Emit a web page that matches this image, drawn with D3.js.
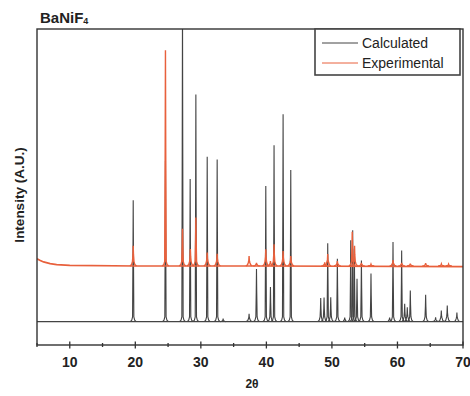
<!DOCTYPE html>
<html>
<head>
<meta charset="utf-8">
<script src="https://cdn.jsdelivr.net/npm/d3@7"></script>
<style>
	body { margin: 0; background: #fff; }
	svg { display: block; font-family: "Liberation Sans", Arial, sans-serif; }
</style>
</head>
<body>
<svg id="chart" width="470" height="396"></svg>
<script>
const calcPos = [19.68, 24.6, 27.2, 28.37, 29.24, 30.97, 32.49, 33.4, 37.36, 38.49, 39.91, 40.62, 41.17, 42.55, 43.72,
	48.29, 48.8, 49.36, 49.82, 50.83, 51.95, 52.87, 53.17, 53.42, 53.83, 54.5, 55.96, 58.8, 59.32, 60.64, 61.1, 61.5,
	61.96, 64.3, 65.82, 66.69, 67.6, 69.07]
const calcInt = [41.5, 55, 110, 48.7, 77.6, 56.3, 55.4, 1, 2.7, 18, 46.3, 11.8, 60.3, 70.9, 51.8,
	8.1, 8.2, 26.8, 8.3, 21.5, 1.4, 27.8, 31.2, 24.9, 14.6, 20.9, 16.4, 1.4, 27.2, 24.3, 6.1, 4.9,
	10.6, 9.2, 1.5, 3.8, 5.5, 3.1]

const expPos = [19.68, 24.6, 27.2, 28.4, 29.24, 30.97, 32.49, 37.36, 38.49, 39.91, 40.62, 41.17, 42.55, 43.72,
	48.9, 49.36, 50.83, 53.1, 53.45, 54.5, 55.96, 59.32, 60.64, 61.96, 64.3, 66.7, 67.8]
const expInt = [6.9, 73.7, 12.7, 5.8, 16.6, 4.6, 4.2, 3.4, 1.1, 5.7, 1.7, 7.4, 5.1, 3.4,
	1.2, 4.1, 1.7, 11.7, 6.9, 1.1, 0.6, 2, 1.1, 0.8, 1, 0.7, 0.6]

// experimental background (offset trace)
const bgX = [5, 5.5, 6, 7, 8, 10, 20, 40, 70]
const bgY = [21.5, 20.9, 20.4, 19.8, 19.5, 19.2, 19.0, 19.0, 18.8]
const expOffset = 19

const xTicks = [10, 20, 30, 40, 50, 60, 70]

const margin = { left: 37, right: 7, top: 29, bottom: 51 }
const width = 470, height = 396

const svg = d3.select('#chart')

const x = d3.scaleLinear().domain([5, 70]).range([margin.left, width - margin.right])
const y = d3.scaleLinear().domain([-8, 100]).range([height - margin.bottom, margin.top])

svg.append('clipPath').attr('id', 'clip')
	.append('rect')
	.attr('x', x(5)).attr('y', y(100))
	.attr('width', x(70) - x(5)).attr('height', y(-8) - y(100))

const plot = svg.append('g').attr('clip-path', 'url(#clip)')

const line = d3.line().x(d => x(d[0])).y(d => y(d[1]))

// a narrow peak shape sitting on a base level, with small rounded feet
const peakShape = (p, h, base, w) => {
	const foot = Math.min(1.6, h * 0.35)
	return [
		[p - w, base], [p - w * 0.5, base + foot * 0.3], [p - w * 0.22, base + foot], [p - 0.04, base + h * 0.55],
		[p, base + h],
		[p + 0.04, base + h * 0.55], [p + w * 0.22, base + foot], [p + w * 0.5, base + foot * 0.3], [p + w, base]
	]
}

const calcColor = '#444', expColor = '#e8603c'

// calculated
plot.append('path')
	.attr('d', line([[5, 0], [70, 0]]))
	.attr('fill', 'none').attr('stroke', calcColor).attr('stroke-width', 1.1)

plot.selectAll('.calc')
	.data(calcPos)
	.enter()
	.append('path')
	.attr('class', 'calc')
	.attr('d', (p, i) => line(peakShape(p, calcInt[i], 0, 0.45)))
	.attr('fill', 'none').attr('stroke', calcColor).attr('stroke-width', 1.1)

// experimental
plot.append('path')
	.attr('d', line(bgX.map((v, i) => [v, bgY[i]])))
	.attr('fill', 'none').attr('stroke', expColor).attr('stroke-width', 1.7)

plot.selectAll('.exp')
	.data(expPos)
	.enter()
	.append('path')
	.attr('class', 'exp')
	.attr('d', (p, i) => line(peakShape(p, expInt[i], expOffset, 0.5)))
	.attr('fill', 'none').attr('stroke', expColor).attr('stroke-width', 1.4)

// frame
svg.append('rect')
	.attr('x', x(5)).attr('y', y(100))
	.attr('width', x(70) - x(5)).attr('height', y(-8) - y(100))
	.attr('fill', 'none').attr('stroke', '#333').attr('stroke-width', 1.4)

// x axis: ticks cross the axis line
const axisY = y(-8)
const minor = d3.range(5, 71, 5).filter(v => v % 10 !== 0)
svg.selectAll('.tmaj')
	.data(xTicks)
	.enter()
	.append('line')
	.attr('x1', d => x(d)).attr('x2', d => x(d))
	.attr('y1', axisY - 3.5).attr('y2', axisY + 3.5)
	.attr('stroke', '#333').attr('stroke-width', 1.3)
svg.selectAll('.tmin')
	.data(minor)
	.enter()
	.append('line')
	.attr('x1', d => x(d)).attr('x2', d => x(d))
	.attr('y1', axisY - 2).attr('y2', axisY + 2)
	.attr('stroke', '#333').attr('stroke-width', 1.3)

svg.selectAll('.tlab')
	.data(xTicks)
	.enter()
	.append('text')
	.attr('x', d => x(d)).attr('y', axisY + 22)
	.attr('text-anchor', 'middle')
	.attr('font-size', 14).attr('font-weight', 'bold').attr('fill', '#222')
	.text(d => d)

svg.append('text')
	.attr('x', 252).attr('y', 388)
	.attr('text-anchor', 'middle')
	.attr('font-size', 12).attr('font-weight', 'bold').attr('fill', '#222')
	.text('2θ')

svg.append('text')
	.attr('transform', 'translate(24,195) rotate(-90)')
	.attr('text-anchor', 'middle')
	.attr('font-size', 13.5).attr('font-weight', 'bold').attr('fill', '#222')
	.text('Intensity (A.U.)')

const title = svg.append('text')
	.attr('x', 40).attr('y', 23)
	.attr('font-size', 15).attr('font-weight', 'bold').attr('fill', '#222')
title.append('tspan').text('BaNiF')
title.append('tspan').attr('font-size', 9).attr('dy', 1).text('4')

// legend
const legend = svg.append('g').attr('transform', 'translate(315,29)')
legend.append('rect')
	.attr('width', 145).attr('height', 46)
	.attr('fill', '#fff').attr('stroke', '#444').attr('stroke-width', 1.6)
const legItems = [['Calculated', calcColor], ['Experimental', expColor]]
legItems.forEach(([name, col], i) => {
	const ly = 14 + i * 20
	legend.append('line')
		.attr('x1', 7).attr('x2', 43).attr('y1', ly).attr('y2', ly)
		.attr('stroke', col).attr('stroke-width', 1)
	legend.append('text')
		.attr('x', 47).attr('y', ly + 5)
		.attr('font-size', 14).attr('fill', '#222')
		.text(name)
})
</script>
</body>
</html>
